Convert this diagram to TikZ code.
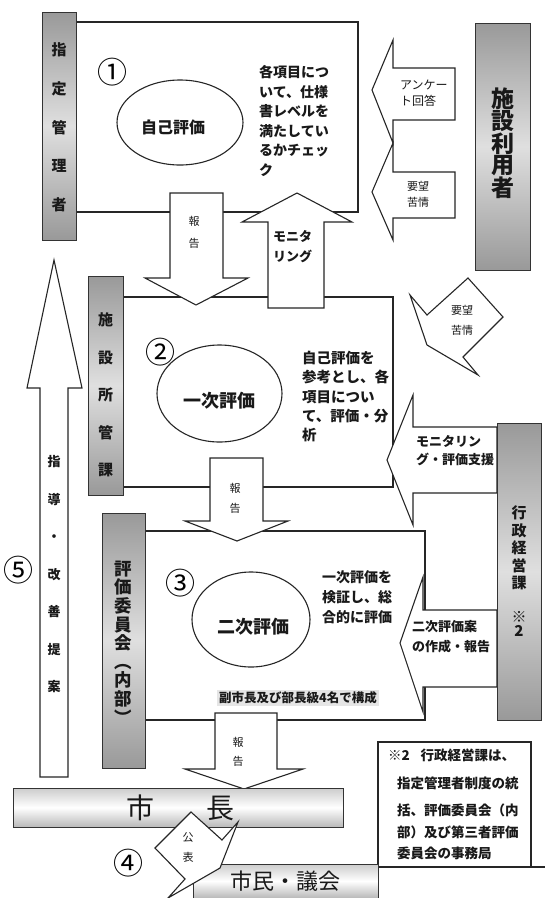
\documentclass[tikz,border=0pt]{standalone}
\usepackage{fontspec}
\newfontfamily\cjk{Noto Sans CJK JP}
\usetikzlibrary{shapes.geometric}
\newcommand\jfs[2]{\fontsize{#1}{#2}\selectfont}
\tikzset{
 frame/.style={line width=1.2pt, draw=black!85},
 barrow/.style={line width=1.1pt, draw=black!85, fill=white, line join=miter},
 vbar/.style={draw=black!80, line width=1pt, top color=gray!80, bottom color=gray!80, middle color=gray!25, inner sep=0pt},
 hbar/.style={draw=black!80, line width=1pt, top color=gray!40, bottom color=gray!55, middle color=white, inner sep=0pt},
 oval/.style={ellipse, draw=black!85, line width=1.1pt, inner sep=0pt},
 txt/.style={inner sep=0pt, align=left, anchor=west, text=black!90},
 ctxt/.style={inner sep=0pt, align=center, text=black!90},
 num/.style={inner sep=0pt, font=\cjk\jfs{30}{30}},
}
\begin{document}
\begin{tikzpicture}[x=1pt,y=-1pt]
\useasboundingbox (0,0) rectangle (545,898);
\fill[white] (0,0) rectangle (545,898);

% frames
\draw[frame] (76,22) -- (358,22) -- (358,212) -- (76,212);
\draw[frame] (123,297) -- (393,297) -- (393,487) -- (123,487);
\draw[frame] (145,531) -- (425,531) -- (425,720) -- (145,720);
\draw[frame] (378,742) rectangle (531,867);
\draw[frame] (531,867) -- (545,867);
\draw[frame] (378,867) -- (378,898);

% ellipses
\node[oval, minimum width=126pt, minimum height=85pt] (e1) at (180,122.5) {};
\node[oval, minimum width=125pt, minimum height=97pt] (e2) at (219.5,393.5) {};
\node[oval, minimum width=118pt, minimum height=95pt] (e3) at (251,619.5) {};

% block arrows
\draw[barrow] (170,193) -- (223,193) -- (223,278) -- (248,278) -- (196,305) -- (145,278) -- (170,278) -- cycle;
\draw[barrow] (268,308) -- (268,222) -- (242,222) -- (297,193) -- (352,222) -- (324,222) -- (324,308) -- cycle;
\draw[barrow] (455,68) -- (393,68) -- (393,40) -- (372,90) -- (393,143) -- (393,120) -- (455,120) -- cycle;
\draw[barrow] (455,172) -- (393,172) -- (393,143) -- (372,192) -- (393,240) -- (393,218) -- (455,218) -- cycle;
\draw[barrow] (427,345) -- (410,295) -- (427,315) -- (468,278) -- (503,317) -- (463,357) -- (478,375) -- cycle;
\draw[barrow] (497,427) -- (413,427) -- (413,395) -- (387,460) -- (413,525) -- (413,493) -- (497,493) -- cycle;
\draw[barrow] (497,610) -- (423,610) -- (423,577) -- (400,643) -- (423,712) -- (423,687) -- (497,687) -- cycle;
\draw[barrow] (210,458) -- (263,458) -- (263,521) -- (288,521) -- (237,541) -- (185,521) -- (210,521) -- cycle;
\draw[barrow] (215,713) -- (277,713) -- (277,769) -- (303,769) -- (244,789) -- (185,769) -- (215,769) -- cycle;
\draw[barrow] (40,777) -- (40,388) -- (27,388) -- (54,260) -- (82,388) -- (68,388) -- (68,777) -- cycle;

% bars
\node[vbar, minimum width=34pt, minimum height=228pt] (b1) at (59,126) {};
\node[vbar, minimum width=35pt, minimum height=219pt] (b2) at (105.5,385.5) {};
\node[vbar, minimum width=43pt, minimum height=255pt] (b3) at (123.5,640.5) {};
\node[vbar, minimum width=55pt, minimum height=247pt] (b4) at (502.5,146.5) {};
\node[vbar, minimum width=44pt, minimum height=297pt] (b5) at (519,571.5) {};
\node[hbar, minimum width=330pt, minimum height=39pt] (b6) at (178,807.5) {};
\shade[top color=gray!40, bottom color=gray!55, middle color=white] (193,864) rectangle (378,898);
\draw[draw=black!80, line width=1pt] (193,898) -- (193,864) -- (378,864) -- (378,898);
\coordinate (b7) at (285.5,881);

% publication arrow
\draw[barrow] (155,848) -- (191,812) -- (222,840) -- (238,822) -- (220,868) -- (168,898) -- (185,879) -- cycle;

% circled numbers
\node[num] (n1) at (112,72) {①};
\node[num] (n2) at (160,352) {②};
\node[num] (n3) at (180,583) {③};
\node[num] (n4) at (128,863) {④};
\node[num] (n5) at (18,570) {⑤};

% ellipse labels
\node[ctxt, font=\cjk\bfseries\jfs{16}{16}] (l1) at (173,127) {自己評価};
\node[ctxt, font=\cjk\bfseries\jfs{18}{18}] (l2) at (219,401) {一次評価};
\node[ctxt, font=\cjk\bfseries\jfs{18}{18}] (l3) at (253,627) {二次評価};

% bar labels
\node[ctxt, font=\cjk\bfseries\jfs{15}{38.75}] (t1) at (59,127.5) {指\\定\\管\\理\\者};
\node[ctxt, font=\cjk\bfseries\jfs{15}{37.5}] (t2) at (105.5,395) {施\\設\\所\\管\\課};
\node[ctxt, font=\cjk\bfseries\jfs{17.5}{18.6}] (t3) at (123.5,642.5) {評\\価\\委\\員\\会\\︵\\内\\部\\︶};
\node[ctxt, font=\cjk\bfseries\jfs{23}{21}] (t4) at (503,143) {施\\設\\利\\用\\者};
\node[ctxt, font=\cjk\bfseries\jfs{15}{17.5}] (t5) at (519,548) {行\\政\\経\\営\\課};
\node[ctxt, font=\cjk\bfseries\jfs{15}{14}] (t6) at (519,624) {※\\2};
\node[ctxt, font=\cjk\jfs{28}{28}] (t7a) at (140,808) {市};
\node[ctxt, font=\cjk\jfs{28}{28}] (t7b) at (220,808) {長};
\node[ctxt, font=\cjk\jfs{22}{22}] (t8) at (b7) {市民・議会};
\node[ctxt, font=\cjk\bfseries\jfs{13}{37.5}] (t9) at (54,574.5) {指\\導\\・\\改\\善\\提\\案};

% body texts
\node[txt, font=\cjk\bfseries\jfs{14}{19.5}] (d1) at (259,120.75) {各項目につ\\いて、仕様\\書レベルを\\満たしてい\\るかチェッ\\ク};
\node[txt, font=\cjk\bfseries\jfs{13}{20}] (d2) at (273,247) {モニタ\\リング};
\node[ctxt, font=\cjk\jfs{11}{22}] (d3) at (194,232) {報\\告};
\node[txt, font=\cjk\jfs{12}{16}] (d4) at (400,93) {アンケー\\ト回答};
\node[ctxt, font=\cjk\jfs{11}{16}] (d5) at (418,194) {要望\\苦情};
\node[ctxt, font=\cjk\jfs{11}{20}] (d6) at (462,320) {要望\\苦情};
\node[txt, font=\cjk\bfseries\jfs{14.5}{19.25}] (d7) at (302,396.5) {自己評価を\\参考とし、各\\項目につい\\て、評価・分\\析};
\node[txt, font=\cjk\bfseries\jfs{13}{18}] (d8) at (416,451) {モニタリン\\グ・評価支援};
\node[ctxt, font=\cjk\jfs{11}{20}] (d9) at (235,498) {報\\告};
\node[txt, font=\cjk\bfseries\jfs{14}{20}] (d10) at (322,597) {一次評価を\\検証し、総\\合的に評価};
\node[txt, font=\cjk\bfseries\jfs{13}{20}] (d11) at (412,637) {二次評価案\\の作成・報告};
\node[ctxt, font=\cjk\bfseries\jfs{12.5}{12.5}, fill=gray!20, inner xsep=2pt, inner ysep=2pt] (d12) at (298,698) {副市長及び部長級4名で構成};
\node[ctxt, font=\cjk\jfs{11}{19}] (d13) at (238,752) {報\\告};
\node[ctxt, font=\cjk\jfs{11}{20}] (d14) at (188,847) {公\\表};

% note
\node[txt, font=\cjk\bfseries\jfs{13.5}{13.5}] (m1) at (388,755) {※2\hspace{0.8em}行政経営課は、};
\node[txt, font=\cjk\bfseries\jfs{13.5}{13.5}] (m2) at (397,783) {指定管理者制度の統};
\node[txt, font=\cjk\bfseries\jfs{13.5}{13.5}] (m3) at (397,810) {括、評価委員会（内};
\node[txt, font=\cjk\bfseries\jfs{13.5}{13.5}] (m4) at (397,832) {部）及び第三者評価};
\node[txt, font=\cjk\bfseries\jfs{13.5}{13.5}] (m5) at (397,853) {委員会の事務局};
\end{tikzpicture}
\end{document}
